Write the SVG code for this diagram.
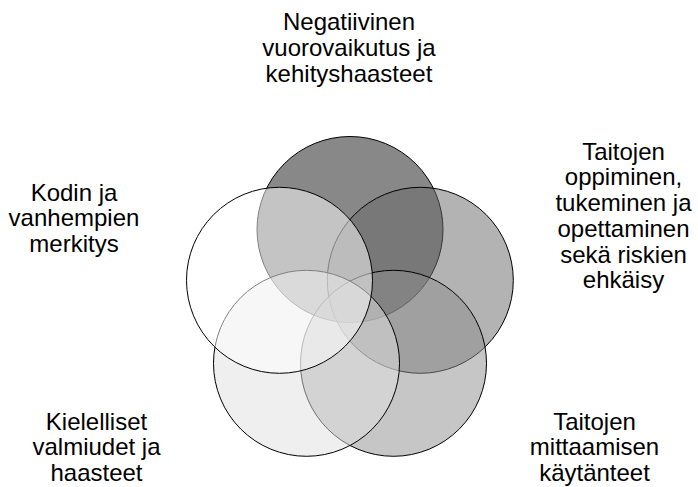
<svg xmlns="http://www.w3.org/2000/svg" width="698" height="487" viewBox="0 0 698 487">
<style>
.c{stroke:#000;stroke-width:1;fill-opacity:0.5}
.t{font-family:"Liberation Sans",Arial,Helvetica,sans-serif;font-size:24px;fill:#000;text-anchor:middle}
</style>
<rect width="698" height="487" fill="#fff"/>
<g id="n1"><circle class="c" cx="350" cy="229.5" r="93" fill="#111111"/>
<text class="t" x="349" y="29.5">Negatiivinen</text><text class="t" x="349" y="55.5">vuorovaikutus ja</text><text class="t" x="349" y="81.5">kehityshaasteet</text></g>
<g id="n2"><circle class="c" cx="420.3" cy="280.3" r="93" fill="#676767"/>
<text class="t" x="623.5" y="159.5">Taitojen</text><text class="t" x="623.5" y="185">oppiminen,</text><text class="t" x="623.5" y="211">tukeminen ja</text><text class="t" x="623.5" y="236.8">opettaminen</text><text class="t" x="623.5" y="262.6">sekä riskien</text><text class="t" x="623.5" y="288.4">ehkäisy</text></g>
<g id="n3"><circle class="c" cx="393.5" cy="363.3" r="93" fill="#8d8d8d"/>
<text class="t" x="594.5" y="429.5">Taitojen</text><text class="t" x="594.5" y="455.3">mittaamisen</text><text class="t" x="594.5" y="481.3">käytänteet</text></g>
<g id="n4"><circle class="c" cx="306.5" cy="363.3" r="93" fill="#dfdfdf"/>
<text class="t" x="96.5" y="429.5">Kielelliset</text><text class="t" x="96.5" y="455.3">valmiudet ja</text><text class="t" x="96.5" y="481.3">haasteet</text></g>
<g id="n5"><circle class="c" cx="279.5" cy="280.3" r="93" fill="#ffffff"/>
<text class="t" x="74" y="200.5">Kodin ja</text><text class="t" x="74" y="226">vanhempien</text><text class="t" x="74" y="251.5">merkitys</text></g>
<g id="connectors"></g>
</svg>
